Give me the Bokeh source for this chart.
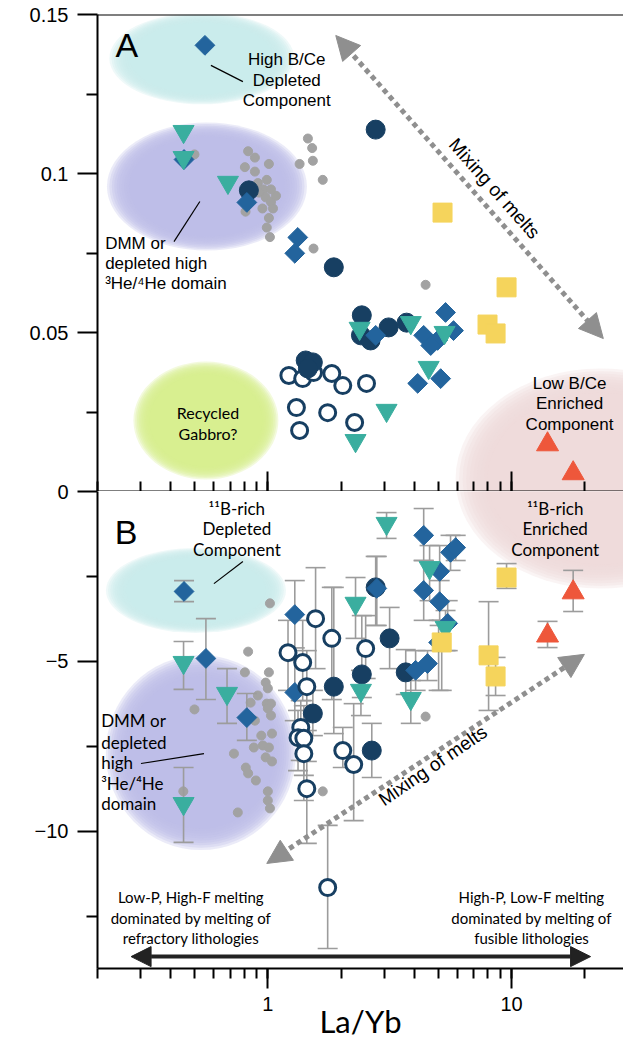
import math
from bokeh.plotting import figure
from bokeh.models import (Range1d, FixedTicker, CustomJSTickFormatter, Label, Arrow,
                          NormalHead, Span)
from bokeh.layouts import column
from bokeh.embed import file_html
from bokeh.resources import INLINE

# ---------------- data : panel A (B/Ce vs La/Yb) ----------------
gA_x = [0.50, 0.83, 0.885, 0.805, 1.01, 0.885, 0.99, 0.91, 0.96, 0.98, 1.03, 0.95, 1.05, 1.01,
        0.99, 1.02, 0.81, 1.46, 1.52, 1.35, 1.53, 1.68, 1.54, 0.92, 1.08, 1.03, 4.44]
gA_y = [0.106, 0.107, 0.105, 0.102, 0.103, 0.1006, 0.098, 0.097, 0.095, 0.0925, 0.091, 0.089, 0.089, 0.086,
        0.083, 0.080, 0.088, 0.111, 0.108, 0.103, 0.104, 0.098, 0.0764, 0.094, 0.093, 0.095, 0.065]
cA_x = [0.836, 2.77, 1.865, 2.43, 2.41, 2.64, 3.13, 3.71, 1.43, 1.53, 1.46]
cA_y = [0.0947, 0.1138, 0.0705, 0.0554, 0.0491, 0.0475, 0.0516, 0.0531, 0.0412, 0.0406, 0.0387]
oA_x = [1.22, 1.39, 1.54, 1.83, 2.03, 2.54, 1.31, 1.76, 1.35, 2.27]
oA_y = [0.0365, 0.0355, 0.0374, 0.0371, 0.0333, 0.034, 0.0264, 0.0248, 0.0192, 0.0217]
dA_x = [0.552, 0.453, 0.82, 1.327, 1.29, 2.77, 5.36, 4.36, 4.97, 5.78, 4.66, 4.12, 5.12]
dA_y = [0.1403, 0.1044, 0.0909, 0.0799, 0.0749, 0.0491, 0.0563, 0.0491, 0.0475, 0.0506, 0.0459, 0.034, 0.0355]
tA_x = [0.451, 0.451, 0.686, 2.38, 3.86, 5.31, 4.57, 3.07, 2.29]
tA_y = [0.1132, 0.105, 0.0972, 0.0513, 0.0531, 0.05, 0.039, 0.0255, 0.016]
yA_x = [5.21, 9.54, 7.97, 8.6]
yA_y = [0.0877, 0.0642, 0.0525, 0.0497]
rA_x = [14.05, 17.9]
rA_y = [0.0148, 0.0057]

# ---------------- data : panel B (d11B vs La/Yb), with error limits ----------------
gB_x = [1.02, 0.83, 0.805, 1.01, 0.98, 1.0, 0.91, 0.85, 0.99, 1.03, 1.0, 1.03, 0.885, 1.04, 0.94, 0.876,
        0.954, 1.01, 0.726, 0.98, 1.04, 0.812, 0.83, 0.893, 1.0, 1.0, 1.02, 0.753, 0.50, 0.45, 1.68, 4.44]
gB_y = [-3.29, -4.71, -5.32, -5.32, -5.62, -5.79, -6.0, -6.21, -6.24, -6.24, -6.38, -6.59, -6.74, -7.12,
        -7.18, -7.53, -7.47, -7.53, -7.71, -7.82, -7.94, -8.12, -8.29, -8.5, -8.82, -9.09, -9.32, -9.44,
        -6.41, -8.82, -8.82, -6.62]
dB_x = [0.453, 0.557, 0.82, 1.29, 1.29, 2.80, 4.36, 5.62, 5.07, 4.36, 5.07, 5.47, 5.02, 4.04, 4.52, 5.9]
dB_y = [-2.94, -4.91, -6.65, -3.62, -5.91, -2.85, -1.29, -1.79, -2.35, -2.91, -3.24, -3.88, -4.44, -5.26, -5.06, -1.65]
dB_hi = [-2.62, -3.74, -5.94, -2.62, -4.6, -1.91, -0.5, -1.29, -1.59, -2.03, -2.62, -3.21, -3.79, -4.68, -4.68, -1.29]
dB_lo = [-3.24, -6.12, -7.32, -4.97, -6.74, -3.94, -2.03, -2.32, -3.21, -3.79, -3.94, -4.68, -5.85, -5.85, -5.56, -2.03]
tB_x = [0.451, 0.68, 0.451, 3.07, 2.29, 4.61, 5.36, 2.41, 3.86]
tB_y = [-5.03, -5.94, -9.18, -0.94, -3.29, -2.24, -4.0, -5.85, -6.09]
tB_hi = [-4.41, -5.21, -8.12, -0.62, -2.53, -1.59, -3.5, -5.26, -5.56]
tB_lo = [-5.82, -6.82, -10.32, -1.38, -4.32, -3.21, -4.68, -6.59, -6.82]
cB_x = [2.77, 3.16, 1.865, 2.43, 3.68, 2.67, 1.53]
cB_y = [-2.82, -4.32, -5.74, -5.38, -5.32, -7.62, -6.53]
cB_hi = [-1.91, -3.41, -2.82, -3.65, -4.65, -6.82, -5.85]
cB_lo = [-3.94, -5.21, -7.12, -6.06, -5.97, -8.41, -7.18]
oB_x = [1.57, 1.83, 1.21, 1.39, 1.445, 2.52, 1.365, 1.33, 1.405, 1.405, 2.03, 2.25, 1.445, 1.76]
oB_y = [-3.74, -4.32, -4.74, -5.03, -5.74, -4.62, -6.94, -7.24, -7.26, -7.71, -7.62, -8.03, -8.74, -11.65]
oB_hi = [-2.24, -2.82, -3.79, -3.79, -4.68, -3.65, -6.15, -6.44, -6.3, -6.74, -6.94, -6.24, -7.94, -9.82]
oB_lo = [-5.21, -6.12, -5.85, -6.15, -7.03, -5.5, -7.91, -8.21, -8.35, -9.09, -8.12, -9.68, -10.35, -13.44]
yB_x = [9.54, 5.17, 8.05, 8.6]
yB_y = [-2.53, -4.44, -4.82, -5.44]
yB_hi = [-2.12, -3.79, -3.24, -4.88]
yB_lo = [-2.85, -5.85, -6.44, -6.0]
rB_x = [17.9, 14.05]
rB_y = [-2.97, -4.24]
rB_hi = [-2.32, -3.82]
rB_lo = [-3.53, -4.59]

# ---------------- axes ----------------
x_lim = (0.2, 28.8)
A_lim = (0.0, 0.15)
B_lim = (-14.03, 0.0)
A_ticks = [0.05, 0.1, 0.15]
A_minor = [0.025, 0.075, 0.125]
B_ticks = [0, -5, -10]
B_minor = [-2.5, -7.5, -12.5]

# ---------------- styles ----------------
NAVY = "#173f62"
BLUE = "#23649d"
TEAL = "#3aae9f"
YEL = "#f5d45c"
RED = "#ee573b"
GREY = "#a2a2a2"
EBAR = "#9c9c9c"
ARW = "#8f8f8f"
ARIAL = "Liberation Sans"
MYR = "Lato"

# soft background fields: (x, y, width_px, height_px, colour)
blobsA = [(0.536, 0.1362, 185, 92, "#cbecec"),
          (0.5625, 0.0959, 200, 128, "#bcbce8"),
          (0.557, 0.0223, 145, 118, "#d8ed8f"),
          (23.2, 0.0041, 290, 220, "#eedbdb")]
blobsB = [(0.507, -2.91, 180, 85, "#cbecec"),
          (0.531, -7.68, 190, 195, "#bcbce8"),
          (23.2, 0.38, 290, 220, "#eedbdb")]


def make_fig(h, ylim, top, bottom):
    p = figure(width=623, height=h, x_axis_type="log", x_range=Range1d(*x_lim),
               y_range=Range1d(*ylim), output_backend="svg", toolbar_location=None,
               title=None, min_border_left=97, min_border_right=0,
               min_border_top=top, min_border_bottom=bottom)
    p.grid.visible = False
    p.outline_line_color = None
    p.background_fill_color = "white"
    for ax in (p.xaxis[0], p.yaxis[0]):
        ax.axis_line_width = 2
        ax.major_tick_line_width = 2
        ax.minor_tick_line_width = 2
        ax.axis_line_color = "black"
        ax.major_label_text_font = ARIAL
        ax.major_label_text_font_size = "20px"
        ax.major_label_text_color = "black"
    p.yaxis[0].major_tick_out = 20
    p.yaxis[0].major_tick_in = 0
    p.yaxis[0].minor_tick_out = 11
    p.yaxis[0].minor_tick_in = 0
    p.yaxis[0].major_label_standoff = 9
    return p


def blob(p, x, y, w, h, color):
    n = 10
    for k in range(n):
        s = 1.0 - 0.22 * k / (n - 1)
        p.ellipse(x=[x], y=[y], width=w * s, height=h * s, width_units="screen",
                  height_units="screen", fill_color=color, fill_alpha=0.3, line_color=None)


def errbars(p, xs, ys_hi, ys_lo):
    p.segment(x0=xs, y0=ys_lo, x1=xs, y1=ys_hi, line_color=EBAR, line_width=1.6)
    p.scatter(xs, ys_hi, marker="dash", size=20, line_color=EBAR, line_width=1.6)
    p.scatter(xs, ys_lo, marker="dash", size=20, line_color=EBAR, line_width=1.6)


def label(p, x, y, text, font, size, align="center", angle=0.0):
    p.add_layout(Label(x=x, y=y, text=text, text_font=font, text_font_size=size,
                       text_align=align, text_baseline="middle", angle=angle,
                       text_color="black"))


# ================= panel A =================
pA = make_fig(491, A_lim, 14, 0)
pA.yaxis[0].ticker = FixedTicker(ticks=A_ticks, minor_ticks=A_minor)
pA.yaxis[0].formatter = CustomJSTickFormatter(code="return String(Math.round(tick*1000)/1000)")
xa = pA.xaxis[0]
xa.major_tick_in = 20
xa.major_tick_out = 0
xa.minor_tick_in = 10
xa.minor_tick_out = 0
xa.major_label_text_font_size = "1px"
xa.major_label_text_alpha = 0
xa.major_label_standoff = 0
pA.add_layout(Span(location=A_lim[1], dimension="width", line_color="black", line_width=2))

for b in blobsA:
    blob(pA, *b)

pA.scatter(gA_x, gA_y, size=9, color=GREY)
pA.scatter(oA_x, oA_y, size=16, fill_color="white", line_color=NAVY, line_width=3)
pA.scatter(cA_x, cA_y, size=19, color=NAVY)
pA.scatter(dA_x, dA_y, marker="square", angle=math.pi / 4, size=14, color=BLUE)
pA.scatter(tA_x, tA_y, marker="inverted_triangle", size=21, color=TEAL)
pA.scatter(yA_x, yA_y, marker="square", size=19, color=YEL)
pA.scatter(rA_x, rA_y, marker="triangle", size=22, color=RED)

pA.line([0.584, 0.79], [0.134, 0.1289], line_color="black", line_width=1.2)
pA.line([0.412, 0.526], [0.0786, 0.0912], line_color="black", line_width=1.2)
pA.add_layout(Arrow(x_start=1.90, y_start=0.1434, x_end=23.8, y_end=0.0481,
                    start=NormalHead(size=24, fill_color=ARW, line_color=ARW),
                    end=NormalHead(size=24, fill_color=ARW, line_color=ARW),
                    line_color=ARW, line_width=5, line_dash="5 4"))

label(pA, 0.264, 0.1403, "A", ARIAL, "34px")
for t, yy in zip(["High B/Ce", "Depleted", "Component"], [0.1358, 0.1292, 0.1230]):
    label(pA, 1.196, yy, t, ARIAL, "17px")
for t, yy in zip(["DMM or", "depleted high", "³He/⁴He domain"], [0.078, 0.0717, 0.0654]):
    label(pA, 0.215, yy, t, ARIAL, "17px", align="left")
for t, yy in zip(["Recycled", "Gabbro?"], [0.0248, 0.0182]):
    label(pA, 0.568, yy, t, MYR, "16px")
for t, yy in zip(["Low B/Ce", "Enriched", "Component"], [0.034, 0.0277, 0.0211]):
    label(pA, 17.3, yy, t, ARIAL, "17px")
label(pA, 8.52, 0.0953, "Mixing of melts", ARIAL, "19px", angle=-0.846)
label(pA, 0.099, 0.0758, "B/Ce", ARIAL, "28px", angle=math.pi / 2)

# ================= panel B =================
pB = make_fig(567, B_lim, 12, 78)
pB.margin = (-12, 0, 0, 0)
pB.border_fill_alpha = 0
pB.yaxis[0].ticker = FixedTicker(ticks=B_ticks, minor_ticks=B_minor)
xb = pB.xaxis[0]
xb.major_tick_out = 20
xb.major_tick_in = 0
xb.minor_tick_out = 10
xb.minor_tick_in = 0
xb.major_label_standoff = 8
xb.formatter = CustomJSTickFormatter(code="return String(tick)")
xb.axis_label = "La/Yb"
xb.axis_label_text_font = MYR
xb.axis_label_text_font_size = "31px"
xb.axis_label_text_font_style = "normal"
xb.axis_label_text_color = "black"
xb.axis_label_standoff = -12

for b in blobsB:
    blob(pB, *b)

pB.scatter(gB_x, gB_y, size=9, color=GREY)
for xs, hi, lo in [(dB_x, dB_hi, dB_lo), (tB_x, tB_hi, tB_lo), (cB_x, cB_hi, cB_lo),
                   (oB_x, oB_hi, oB_lo), (yB_x, yB_hi, yB_lo), (rB_x, rB_hi, rB_lo)]:
    errbars(pB, xs, hi, lo)
pB.scatter(cB_x, cB_y, size=19, color=NAVY)
pB.scatter(dB_x, dB_y, marker="square", angle=math.pi / 4, size=14, color=BLUE)
pB.scatter(oB_x, oB_y, size=16, fill_color="white", line_color=NAVY, line_width=3)
pB.scatter(tB_x, tB_y, marker="inverted_triangle", size=21, color=TEAL)
pB.scatter(yB_x, yB_y, marker="square", size=19, color=YEL)
pB.scatter(rB_x, rB_y, marker="triangle", size=22, color=RED)

pB.line([0.601, 0.79], [-2.71, -2.06], line_color="black", line_width=1.2)
pB.line([0.3016, 0.547], [-8.0, -7.71], line_color="black", line_width=1.2)
pB.add_layout(Arrow(x_start=0.99, y_start=-10.94, x_end=19.9, y_end=-4.79,
                    start=NormalHead(size=24, fill_color=ARW, line_color=ARW),
                    end=NormalHead(size=24, fill_color=ARW, line_color=ARW),
                    line_color=ARW, line_width=5, line_dash="5 4"))
pB.add_layout(Arrow(x_start=0.2747, y_start=-13.68, x_end=21.1, y_end=-13.68,
                    start=NormalHead(size=20, fill_color="#222222", line_color="#222222"),
                    end=NormalHead(size=20, fill_color="#222222", line_color="#222222"),
                    line_color="#222222", line_width=4))

label(pB, 0.262, -1.18, "B", ARIAL, "34px")
for t, yy in zip(["¹¹B-rich", "Depleted", "Component"], [-0.5, -1.09, -1.71]):
    label(pB, 0.746, yy, t, MYR, "17px")
for t, yy in zip(["¹¹B-rich", "Enriched", "Component"], [-0.5, -1.09, -1.71]):
    label(pB, 15.1, yy, t, MYR, "17px")
for t, yy in zip(["DMM or", "depleted", "high", "³He/⁴He", "domain"], [-6.74, -7.38, -7.97, -8.59, -9.18]):
    label(pB, 0.207, yy, t, MYR, "17px", align="left")
label(pB, 4.75, -8.06, "Mixing of melts", ARIAL, "19px", angle=0.6)
for t, yy in zip(["Low-P, High-F melting", "dominated by melting of", "refractory lithologies"],
                 [-11.94, -12.53, -13.12]):
    label(pB, 0.4835, yy, t, MYR, "15px")
for t, yy in zip(["High-P, Low-F melting", "dominated by melting of", "fusible lithologies"],
                 [-11.94, -12.53, -13.12]):
    label(pB, 12.08, yy, t, MYR, "15px")
label(pB, 0.099, -7.24, "δ¹¹B (‰)", ARIAL, "28px", angle=math.pi / 2)

layout = column(pA, pB, spacing=0)
open("out.html", "w").write(file_html(layout, INLINE))
